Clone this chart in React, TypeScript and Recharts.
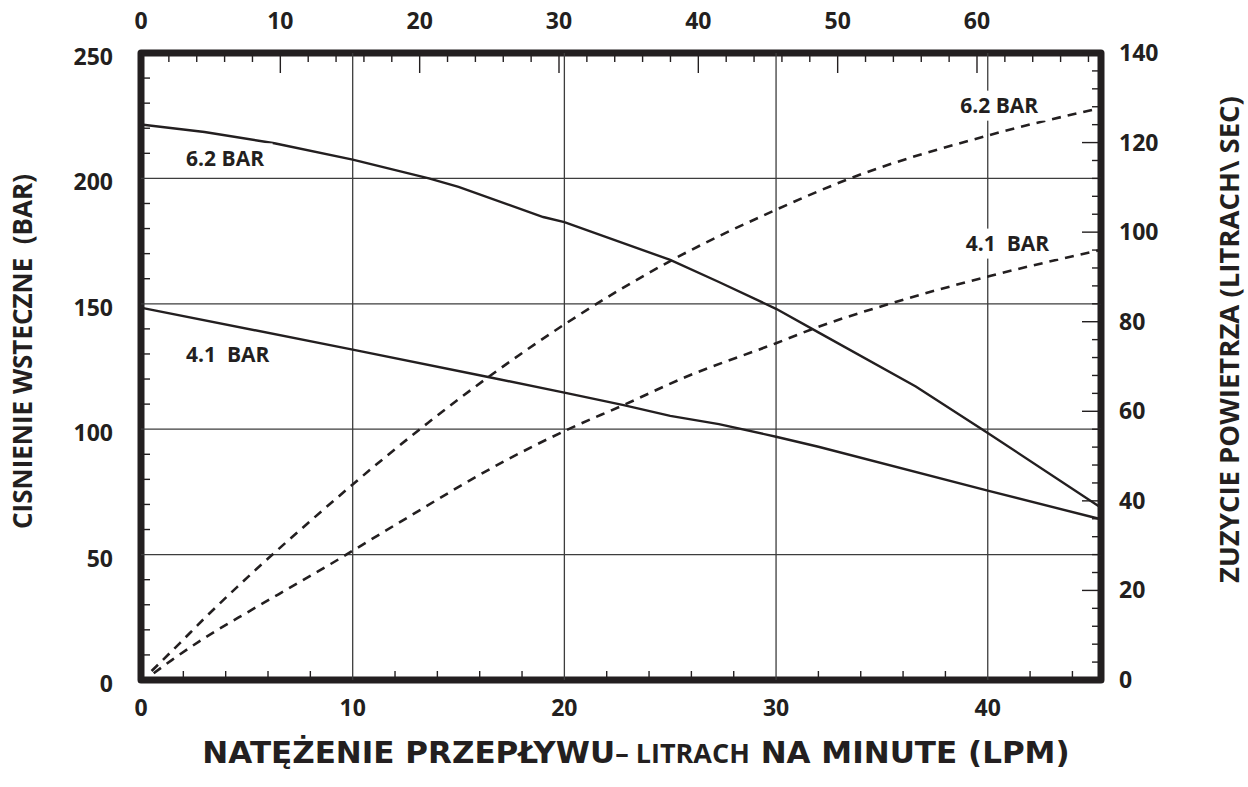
import React from 'react';
import {
  ComposedChart,
  Line,
  XAxis,
  YAxis,
  ReferenceLine,
  ReferenceArea,
  ReferenceDot,
} from 'recharts';

const INK = '#231f20';
const GRID = '#3d3d3d';
const TICK_FONT = "'Open Sans', sans-serif";
const TITLE_FONT = "'DejaVu Sans', sans-serif";

// axis ranges
const FLOW_MAX = 45.35; // bottom axis, LPM
const TOP_MAX = 68.9; // top axis
const BACK_MAX = 250; // left axis, bar
const AIR_MAX = 140; // right axis, l/s

const steps = (max: number, step: number) => {
  const out: number[] = [];
  for (let v = 0; v <= max + 1e-9; v += step) out.push(Math.round(v * 100) / 100);
  return out;
};

const flowTicks = steps(44, 2);
const flowLabels = [0, 10, 20, 30, 40];
const topTicks = steps(68, 2);
const topLabels = [0, 10, 20, 30, 40, 50, 60];
const backTicks = steps(250, 10);
const backLabels = [0, 50, 100, 150, 200, 250];
const airTicks = steps(140, 4);
const airLabels = [0, 20, 40, 60, 80, 100, 120, 140];

// grid lines
const gridFlow = [10, 20, 30, 40];
const gridBack = [50, 100, 150, 200];

// back pressure, 6.2 bar inlet (solid, left axis)
const flowP62 = [0, 3, 6.3, 10, 13.6, 15, 19, 20, 25, 27.3, 30, 32, 36.6, 40, 45.3];
const backP62 = [221.5, 218.5, 214, 207.5, 200, 196.6, 184.6, 182.6, 167.5, 158.7, 148, 138.6, 117, 98.5, 69];

// back pressure, 4.1 bar inlet (solid, left axis)
const flowP41 = [0.1, 10, 16.4, 20, 22.8, 25, 27.3, 30, 32, 40, 45.3];
const backP41 = [148.3, 131.7, 120.8, 114.6, 109.6, 105.3, 102, 97, 93, 75.5, 64.2];

// air consumption, 6.2 bar (dashed, right axis)
const flowA62 = [0.5, 1.85, 2.94, 4.55, 5.3, 8, 11.5, 13.55, 16.4, 20.1, 25.1, 30, 33.5, 40.1, 45.3];
const airA62 = [2, 8.3, 13.5, 20.8, 24.1, 35.5, 49.6, 57.4, 67.6, 79.7, 93.8, 105, 112, 121.7, 127.7];

// air consumption, 4.1 bar (dashed, right axis)
const flowA41 = [0.6, 1.47, 2.94, 5.17, 7.4, 8.96, 12, 17.3, 20.1, 22.8, 25.7, 30, 31.85, 35.5, 40.1, 45.3];
const airA41 = [1.5, 4.5, 9.2, 15.5, 21.6, 25.9, 34.6, 49.2, 55.8, 61.4, 67.6, 75.2, 78.6, 84.2, 90.2, 96];

// top axis span (no series of its own)
const topSpan = [{ t: 0 }, { t: TOP_MAX }];

// curve labels (flow, back pressure scale)
const noteText = ['6.2 BAR', '4.1  BAR', '6.2 BAR', '4.1  BAR'];
const noteFlow = [2.13, 2.13, 38.7, 38.96];
const noteBack = [208, 129.6, 229, 174];

const zip = (xs: number[], ys: number[]) => xs.map((x, i) => ({ x, y: ys[i] }));

const tickText = {
  fontFamily: TICK_FONT,
  fontWeight: 700,
  fontSize: 23,
  fill: INK,
};

// baseline offset that puts digit centres on the given y
const MID = 8;

const BottomTick = ({ x, y, payload }: any) => {
  const v = payload.value;
  if (flowLabels.includes(v)) {
    return (
      <text x={x} y={y + 28 + MID} textAnchor="middle" style={tickText}>
        {v}
      </text>
    );
  }
  return <line x1={x} x2={x} y1={y} y2={y - 9} stroke={INK} strokeWidth={1.4} />;
};

const TopTick = ({ x, y, payload }: any) => {
  const v = payload.value;
  const major = topLabels.includes(v);
  return (
    <g>
      <line x1={x} x2={x} y1={y} y2={y + (major ? 20 : 9)} stroke={INK} strokeWidth={1.4} />
      {major && (
        <text x={x} y={y - 32 + MID} textAnchor="middle" style={tickText}>
          {v}
        </text>
      )}
    </g>
  );
};

const LeftTick = ({ x, y, payload }: any) => {
  const v = payload.value;
  if (backLabels.includes(v)) {
    return (
      <text x={x - 28} y={y + 4 + MID} textAnchor="end" style={tickText}>
        {v}
      </text>
    );
  }
  return <line x1={x} x2={x + 9} y1={y} y2={y} stroke={INK} strokeWidth={1.4} />;
};

const RightTick = ({ x, y, payload }: any) => {
  const v = payload.value;
  const major = airLabels.includes(v);
  return (
    <g>
      <line x1={x} x2={x - (major ? 19 : 9)} y1={y} y2={y} stroke={INK} strokeWidth={1.4} />
      {major && (
        <text x={x + 18} y={y + MID} textAnchor="start" style={tickText}>
          {v}
        </text>
      )}
    </g>
  );
};

// vertical title, reads bottom to top
const VTitle = ({ cx, cy, size, children }: any) => (
  <text
    x={cx}
    y={cy}
    transform={`rotate(180 ${cx} ${cy})`}
    textAnchor="middle"
    style={{ ...tickText, fontSize: size, writingMode: 'vertical-rl', whiteSpace: 'pre' }}
  >
    {children}
  </text>
);

const LeftTitle = ({ viewBox }: any) => (
  <VTitle cx={viewBox.x + 22} cy={viewBox.y + viewBox.height / 2 - 15} size={26}>
    CISNIENIE WSTECZNE  (BAR)
  </VTitle>
);

const RightTitle = ({ viewBox }: any) => (
  <VTitle cx={viewBox.x + 127} cy={viewBox.y + viewBox.height / 2 - 27} size={27.5}>
    ZUZYCIE POWIETRZA (LITRACH\ SEC)
  </VTitle>
);

const BottomTitle = ({ viewBox }: any) => {
  const cx = viewBox.x + viewBox.width / 2 + 15;
  const base = viewBox.y + 83;
  const big = { fontFamily: TITLE_FONT, fontWeight: 700, fontSize: 31, fill: INK };
  const small = { fontFamily: TICK_FONT, fontWeight: 700, fontSize: 27, fill: INK };
  return (
    <text x={cx} y={base} textAnchor="middle" style={{ whiteSpace: 'pre' }}>
      <tspan style={big}>NATĘŻENIE PRZEPŁYWU</tspan>
      <tspan style={small}>– LITRACH</tspan>
      <tspan style={big}> NA MINUTE (LPM)</tspan>
    </text>
  );
};

const Note = (text: string) => ({ viewBox }: any) => {
  const x = viewBox.x + viewBox.width / 2;
  const y = viewBox.y + viewBox.height / 2;
  const w = text.length * 11.5;
  return (
    <g>
      <rect x={x - 6} y={y - 15} width={w + 12} height={30} fill="#ffffff" />
      <text x={x} y={y + 7.5} style={{ ...tickText, fontSize: 21, whiteSpace: 'pre' }}>
        {text}
      </text>
    </g>
  );
};

export default function App() {
  return (
    <div style={{ position: 'absolute', left: 0, top: 0, width: 1248, height: 787 }}>
      <ComposedChart width={1248} height={787} margin={{ top: 0, right: 0, bottom: 0, left: 0 }}>
        <XAxis
          xAxisId="bottom"
          dataKey="x"
          type="number"
          domain={[0, FLOW_MAX]}
          allowDataOverflow
          ticks={flowTicks}
          interval={0}
          tick={BottomTick}
          tickSize={0}
          tickMargin={0}
          tickLine={false}
          axisLine={false}
          height={107}
          label={BottomTitle}
        />
        <XAxis
          xAxisId="top"
          dataKey="t"
          orientation="top"
          type="number"
          domain={[0, TOP_MAX]}
          allowDataOverflow
          ticks={topTicks}
          interval={0}
          tick={TopTick}
          tickSize={0}
          tickMargin={0}
          tickLine={false}
          axisLine={false}
          height={53}
        />
        <YAxis
          yAxisId="left"
          type="number"
          domain={[0, BACK_MAX]}
          allowDataOverflow
          ticks={backTicks}
          interval={0}
          tick={LeftTick}
          tickSize={0}
          tickMargin={0}
          tickLine={false}
          axisLine={false}
          width={141}
          label={LeftTitle}
        />
        <YAxis
          yAxisId="right"
          orientation="right"
          type="number"
          domain={[0, AIR_MAX]}
          allowDataOverflow
          ticks={airTicks}
          interval={0}
          tick={RightTick}
          tickSize={0}
          tickMargin={0}
          tickLine={false}
          axisLine={false}
          width={147}
          label={RightTitle}
        />

        {gridFlow.map((v) => (
          <ReferenceLine key={`gx${v}`} x={v} xAxisId="bottom" yAxisId="left" stroke={GRID} strokeWidth={1.3} />
        ))}
        {gridBack.map((v) => (
          <ReferenceLine key={`gy${v}`} y={v} xAxisId="bottom" yAxisId="left" stroke={GRID} strokeWidth={1.3} />
        ))}

        {noteText.map((t, i) => (
          <ReferenceDot
            key={`n${i}`}
            x={noteFlow[i]}
            y={noteBack[i]}
            r={0}
            xAxisId="bottom"
            yAxisId="left"
            fill="none"
            stroke="none"
            label={Note(t)}
          />
        ))}

        {/* keeps the top axis alive; draws nothing */}
        <Line
          data={topSpan}
          dataKey="none"
          xAxisId="top"
          yAxisId="left"
          stroke="none"
          dot={false}
          activeDot={false}
          legendType="none"
          isAnimationActive={false}
        />

        <Line
          data={zip(flowP62, backP62)}
          dataKey="y"
          xAxisId="bottom"
          yAxisId="left"
          type="linear"
          stroke={INK}
          strokeWidth={2.4}
          dot={false}
          activeDot={false}
          isAnimationActive={false}
        />
        <Line
          data={zip(flowP41, backP41)}
          dataKey="y"
          xAxisId="bottom"
          yAxisId="left"
          type="linear"
          stroke={INK}
          strokeWidth={2.4}
          dot={false}
          activeDot={false}
          isAnimationActive={false}
        />
        <Line
          data={zip(flowA62, airA62)}
          dataKey="y"
          xAxisId="bottom"
          yAxisId="right"
          type="monotone"
          stroke={INK}
          strokeWidth={2.6}
          strokeDasharray="9 7"
          dot={false}
          activeDot={false}
          isAnimationActive={false}
        />
        <Line
          data={zip(flowA41, airA41)}
          dataKey="y"
          xAxisId="bottom"
          yAxisId="right"
          type="monotone"
          stroke={INK}
          strokeWidth={2.6}
          strokeDasharray="9 7"
          dot={false}
          activeDot={false}
          isAnimationActive={false}
        />

        <ReferenceArea
          x1={0}
          x2={FLOW_MAX}
          y1={0}
          y2={BACK_MAX}
          xAxisId="bottom"
          yAxisId="left"
          fill="none"
          fillOpacity={0}
          stroke={INK}
          strokeWidth={7}
          strokeLinejoin="round"
        />
      </ComposedChart>
    </div>
  );
}
